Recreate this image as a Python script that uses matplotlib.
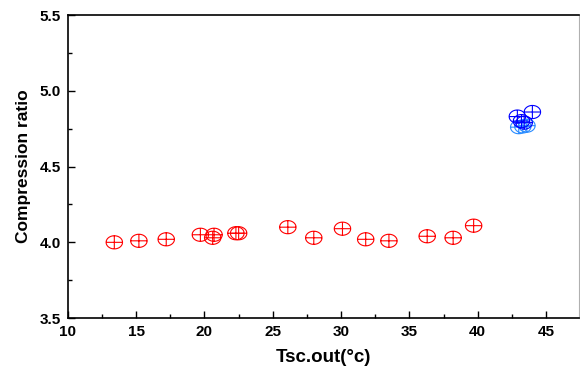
import numpy as np
import matplotlib
matplotlib.use("Agg")
import matplotlib.pyplot as plt
from matplotlib.path import Path
from matplotlib.ticker import MultipleLocator

plt.rcParams['font.family'] = ['Liberation Sans', 'DejaVu Sans']

# Data
red_x = [13.4, 15.2, 17.2, 19.7, 20.6, 20.7, 22.3, 22.5, 26.1, 28.0, 30.1, 31.8, 33.5, 36.3, 38.2, 39.7]
red_y = [4.00, 4.01, 4.02, 4.05, 4.03, 4.05, 4.06, 4.06, 4.10, 4.03, 4.09, 4.02, 4.01, 4.04, 4.03, 4.11]
blue_x = [42.9, 44.0, 43.2, 43.4]
blue_y = [4.83, 4.86, 4.80, 4.79]
lblue_x = [43.0, 43.3, 43.6]
lblue_y = [4.76, 4.765, 4.77]

# ellipse with a cross, like the Origin marker
t = np.linspace(0, 2 * np.pi, 41)
verts = list(zip(np.cos(t), 0.8 * np.sin(t)))
codes = [Path.MOVETO] + [Path.LINETO] * (len(verts) - 1)
verts += [(-1, 0), (1, 0), (0, -0.8), (0, 0.8)]
codes += [Path.MOVETO, Path.LINETO, Path.MOVETO, Path.LINETO]
oplus = Path(verts, codes)

fig = plt.figure(figsize=(5.8, 3.76), dpi=100)
ax = fig.add_axes([0.117, 0.154, 0.881, 0.806])

kw = dict(marker=oplus, s=140, facecolors='none', linewidths=0.8)
ax.scatter(red_x, red_y, edgecolors='#ff0000', **kw)
ax.scatter(lblue_x, lblue_y, edgecolors='#2a8cff', **kw)
ax.scatter(blue_x, blue_y, edgecolors='#0000ff', **kw)

ax.set_xlim(10, 47.4)
ax.set_ylim(3.5, 5.5)
ax.xaxis.set_major_locator(MultipleLocator(5))
ax.xaxis.set_minor_locator(MultipleLocator(2.5))
ax.yaxis.set_major_locator(MultipleLocator(0.5))
ax.yaxis.set_minor_locator(MultipleLocator(0.25))
ax.yaxis.set_major_formatter(matplotlib.ticker.FormatStrFormatter('%.1f'))

ax.tick_params(which='both', direction='in', top=False, right=False, width=1.0)
ax.tick_params(which='major', length=5, labelsize=11, pad=5)
ax.tick_params(which='minor', length=3)
for lab in ax.get_xticklabels() + ax.get_yticklabels():
    lab.set_fontweight('bold')

for s in ['left', 'bottom', 'top']:
    ax.spines[s].set_linewidth(1.2)
ax.spines['right'].set_color('#b0b0b0')
ax.spines['right'].set_linewidth(0.8)

ax.set_xlabel('Tsc.out(°c)', fontsize=13.5, fontweight='bold', labelpad=7)
ax.set_ylabel('Compression ratio', fontsize=12.5, fontweight='bold', labelpad=6)

fig.savefig('out.png', dpi=100)
